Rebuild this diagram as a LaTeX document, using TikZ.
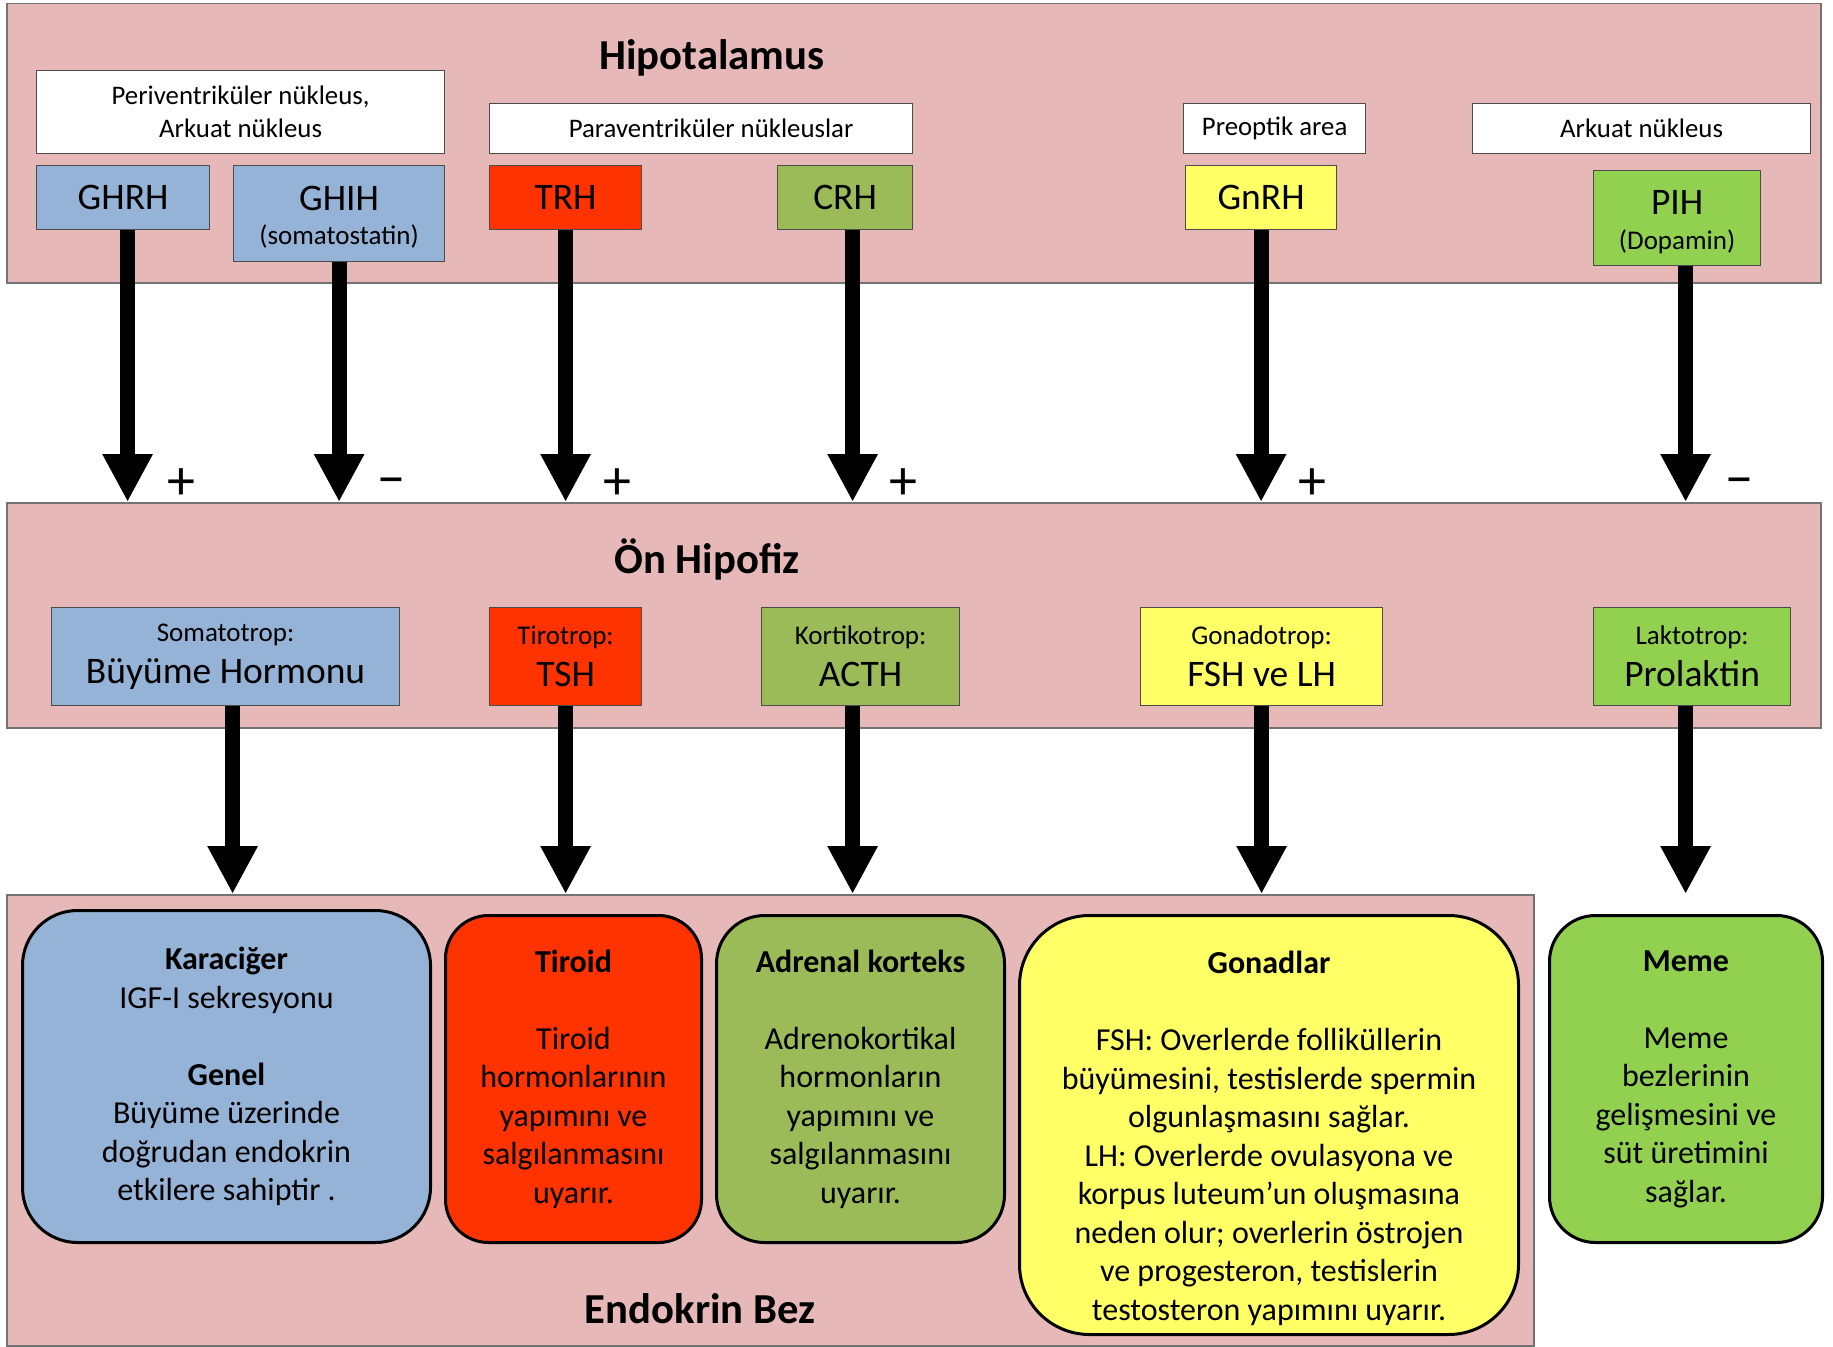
\documentclass[tikz,border=0pt]{standalone}
\usepackage{fontspec}
\setmainfont{Carlito}
\usetikzlibrary{arrows.meta, positioning}
\definecolor{bandpink}{HTML}{E6B9B8}
\definecolor{gblue}{HTML}{95B3D7}
\definecolor{gred}{HTML}{FF3300}
\definecolor{golive}{HTML}{9BBB59}
\definecolor{gyellow}{HTML}{FFFF66}
\definecolor{ggreen}{HTML}{92D050}
\newcommand{\fsz}[2]{\fontsize{#1}{#2}\selectfont}
\newcommand{\sublabel}{\fsz{27}{31}}
\tikzset{
  >={Triangle[width=47pt,length=48pt]},
  band/.style={draw=black!55, line width=1.5pt, fill=bandpink, anchor=north west, inner sep=0pt},
  cell/.style={draw=black!70, line width=1.2pt, anchor=north west, inner sep=0pt, align=center, font=\fsz{37.5}{41}},
  area/.style={cell, fill=white, font=\fsz{26.8}{33}},
  gland/.style={draw=black, line width=3pt, anchor=north west, inner sep=0pt, align=center, font=\fsz{32}{38.5}},
  title/.style={font=\bfseries\fsz{42.7}{50}},
  sign/.style={font=\fsz{56}{60}, inner sep=0pt},
  hormone/.style={->, line width=15pt},
}
\begin{document}
\begin{tikzpicture}[x=1pt, y=-1pt]
        \useasboundingbox (0,0) rectangle (1833,1346);

        % bands
        \node[band, minimum width=1814pt, minimum height=279pt] (hypo) at (6,3) {};
        \node[band, minimum width=1814pt, minimum height=225pt] (onhip) at (6,502) {};
        \node[band, minimum width=1527pt, minimum height=451pt] (endo) at (6,894) {};
        \node[title] (hypotitle) at (712,58) {Hipotalamus};
        \node[title] (onhiptitle) at (707,559) {Ön Hipofiz};
        \node[title] (endotitle) at (700,1309) {Endokrin Bez};

        % nuclei
        \node[area, minimum width=408pt, minimum height=83pt] (peri) at (36,70) {Periventriküler nükleus,\\Arkuat nükleus};
        \node[area, minimum width=423pt, minimum height=50pt] (para) at (489,103) {\hspace*{20pt}Paraventriküler nükleuslar};
        \node[area, minimum width=182pt, minimum height=50pt] (preopt) at (1183,103) {Preoptik area};
        \node[area, minimum width=338pt, minimum height=50pt] (arkuat) at (1472,103) {Arkuat nükleus};

        % releasing hormones
        \node[cell, fill=gblue, minimum width=173pt, minimum height=64pt] (ghrh) at (36,165) {GHRH};
        \node[cell, fill=gblue, minimum width=211pt, minimum height=96pt] (ghih) at (233,165) {\rule{0pt}{32pt}GHIH\\[-7pt]{\sublabel(somatostatin)}};
        \node[cell, fill=gred, minimum width=152pt, minimum height=64pt] (trh) at (489,165) {TRH};
        \node[cell, fill=golive, minimum width=135pt, minimum height=64pt] (crh) at (777,165) {CRH};
        \node[cell, fill=gyellow, minimum width=151pt, minimum height=64pt] (gnrh) at (1185,165) {GnRH};
        \node[cell, fill=ggreen, minimum width=167pt, minimum height=95pt] (pih) at (1593,170) {\rule{0pt}{32pt}PIH\\[-6pt]{\sublabel(Dopamin)}};

        % pituitary cells
        \node[cell, fill=gblue, minimum width=348pt, minimum height=98pt] (soma) at (51,607) {{\sublabel Somatotrop:}\\[1pt]Büyüme Hormonu};
        \node[cell, fill=gred, minimum width=152pt, minimum height=98pt] (tsh) at (489,607) {{\sublabel Tirotrop:}\\[1pt]TSH};
        \node[cell, fill=golive, minimum width=198pt, minimum height=98pt] (acth) at (761,607) {{\sublabel Kortikotrop:}\\[1pt]ACTH};
        \node[cell, fill=gyellow, minimum width=242pt, minimum height=98pt] (gonado) at (1140,607) {{\sublabel Gonadotrop:}\\[1pt]FSH ve LH};
        \node[cell, fill=ggreen, minimum width=197pt, minimum height=98pt] (lakto) at (1593,607) {{\sublabel Laktotrop:}\\[1pt]Prolaktin};

        % glands
        \node[gland, fill=gblue, minimum width=408pt, minimum height=332pt, rounded corners=55pt] (liver) at (21,909)
          {\textbf{Karaciğer}\\IGF-I sekresyonu\\[38.5pt]\textbf{Genel}\\Büyüme üzerinde\\doğrudan endokrin\\etkilere sahiptir .};
        \node[gland, fill=gred, minimum width=256pt, minimum height=327pt, rounded corners=43pt] (thyroid) at (444,914)
          {\textbf{Tiroid}\\[38.5pt]Tiroid\\hormonlarının\\yapımını ve\\salgılanmasını\\uyarır.};
        \node[gland, fill=golive, minimum width=288pt, minimum height=327pt, rounded corners=48pt] (adrenal) at (715,914)
          {\textbf{Adrenal korteks}\\[38.5pt]Adrenokortikal\\hormonların\\yapımını ve\\salgılanmasını\\uyarır.};
        \node[gland, fill=gyellow, minimum width=499pt, minimum height=419pt, rounded corners=70pt] (gonad) at (1018,914)
          {\mbox{}\\[10.5pt]\textbf{Gonadlar}\\[38.5pt]FSH: Overlerde folliküllerin\\büyümesini, testislerde spermin\\olgunlaşmasını sağlar.\\LH: Overlerde ovulasyona ve\\korpus luteum’un oluşmasına\\neden olur; overlerin östrojen\\ve progesteron, testislerin\\testosteron yapımını uyarır.};
        \node[gland, fill=ggreen, minimum width=273pt, minimum height=327pt, rounded corners=46pt] (breast) at (1548,914)
          {\textbf{Meme}\\[38.5pt]Meme\\bezlerinin\\gelişmesini ve\\süt üretimini\\sağlar.};

        % signs
        \node[sign] (plus1) at (181,484) {+};
        \node[sign] (minus1) at (391,488) {−};
        \node[sign] (plus2) at (617,484) {+};
        \node[sign] (plus3) at (903,484) {+};
        \node[sign] (plus4) at (1312,484) {+};
        \node[sign] (minus2) at (1739,488) {−};

        % hormone arrows
        \path[hormone] ([xshift=4.5pt]ghrh.south) edge ([xshift=4.5pt]ghrh.south |- onhip.north)
              (ghih.south) edge (ghih.south |- onhip.north)
              (trh.south) edge (trh.south |- onhip.north)
              ([xshift=7.5pt]crh.south) edge ([xshift=7.5pt]crh.south |- onhip.north)
              (gnrh.south) edge (gnrh.south |- onhip.north)
              ([xshift=8.5pt]pih.south) edge ([xshift=8.5pt]pih.south |- onhip.north);
        \path[hormone] ([xshift=7pt]soma.south) edge ([xshift=7pt]soma.south |- endo.north)
              (tsh.south) edge (tsh.south |- endo.north)
              ([xshift=-8pt]acth.south) edge ([xshift=-8pt]acth.south |- endo.north)
              (gonado.south) edge (gonado.south |- endo.north)
              ([xshift=-6.5pt]lakto.south) edge ([xshift=-6.5pt]lakto.south |- endo.north);

\end{tikzpicture}
\end{document}
